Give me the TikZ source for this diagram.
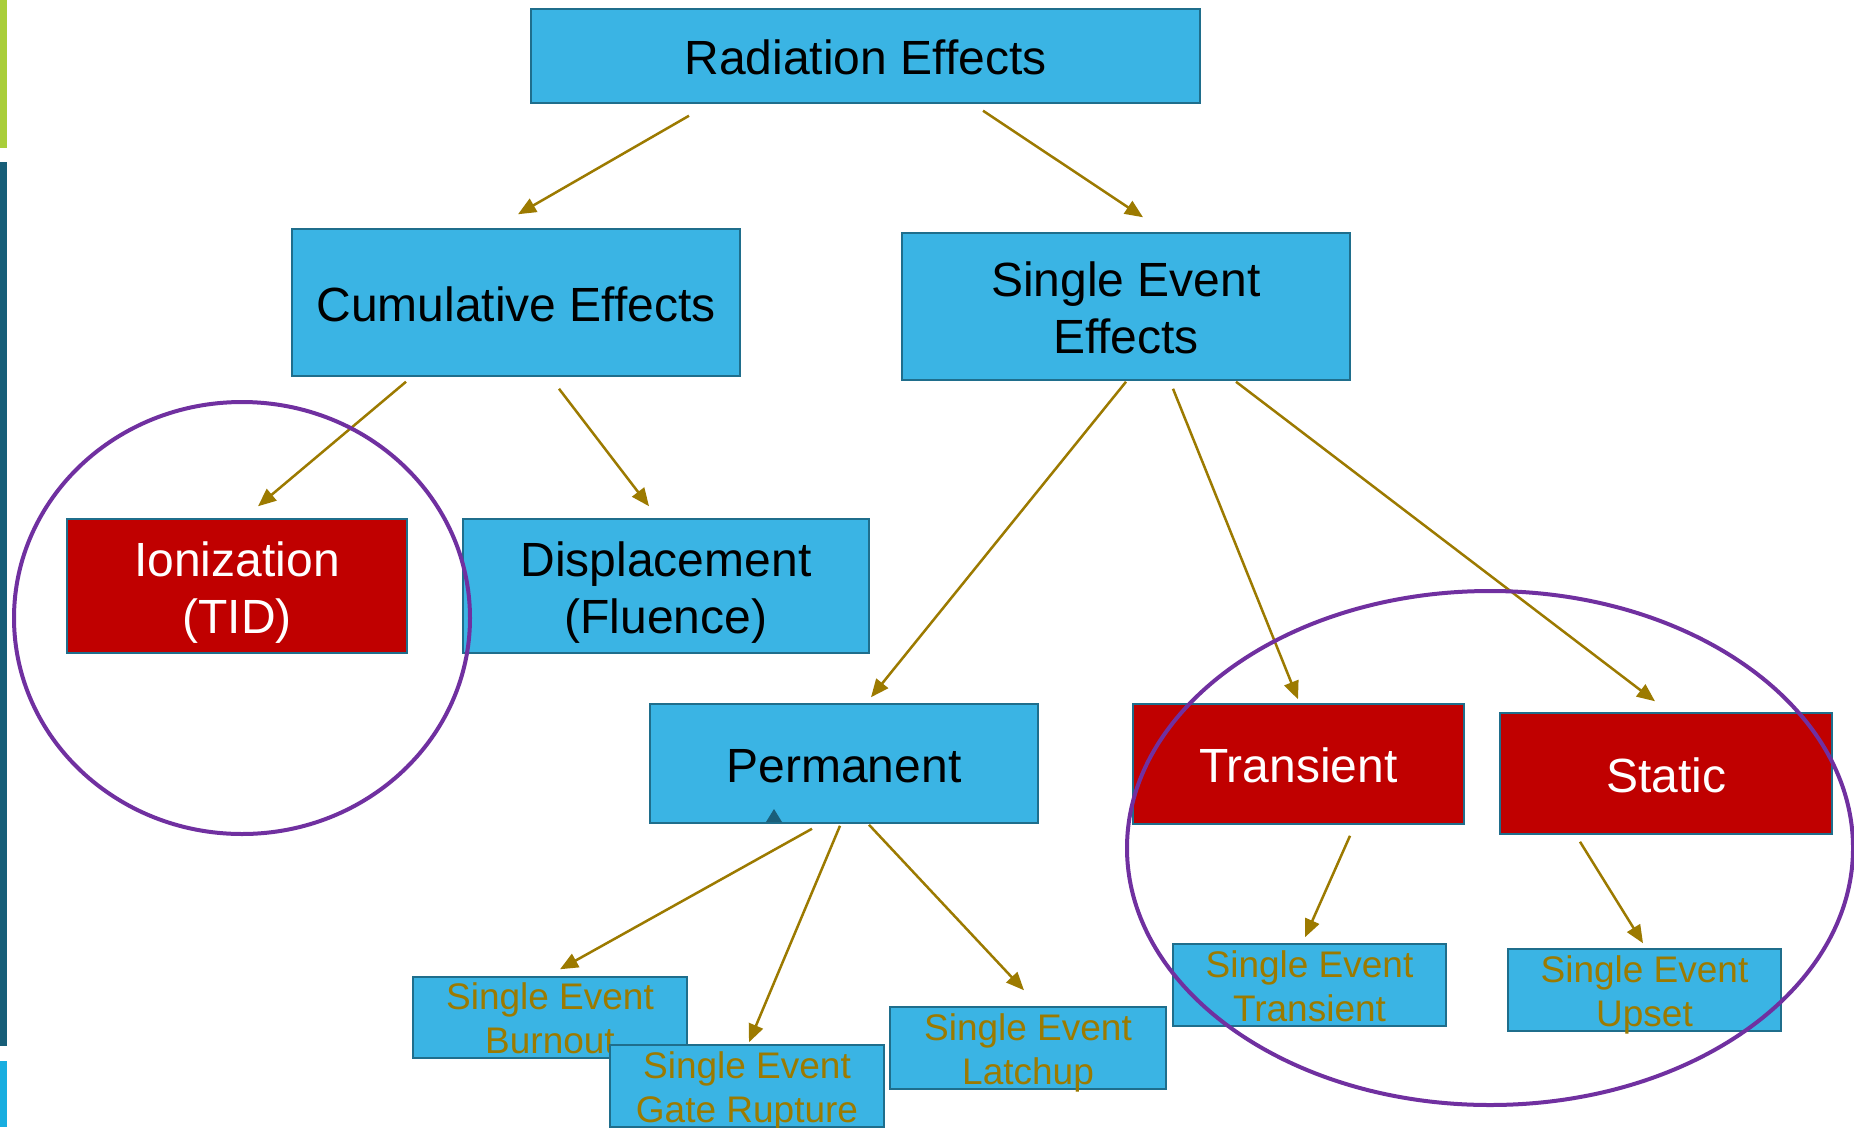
\documentclass[tikz,border=0pt]{standalone}
\usepackage{fontspec}
\setmainfont{Liberation Sans}
\usetikzlibrary{arrows.meta}
\definecolor{boxblue}{HTML}{3AB4E4}
\definecolor{boxedge}{HTML}{1F6E8C}
\definecolor{boxred}{HTML}{C00000}
\definecolor{arrowgold}{HTML}{9C7A00}
\definecolor{ringpurple}{HTML}{7030A0}
\definecolor{bargreen}{HTML}{A9CE3A}
\definecolor{barteal}{HTML}{175E78}
\definecolor{barcyan}{HTML}{18AEE0}
\definecolor{marker}{HTML}{1A5F7A}
\tikzset{
  plainbox/.style={draw=boxedge, line width=1.5pt, fill=boxblue, inner sep=0pt,
    align=center, text=black},
  % fixed struts around the label so every label sits the same way in its box
  box/.style={plainbox, font=\fontsize{48}{57}\selectfont,
    execute at begin node={\rule{0pt}{47.9pt}},
    execute at end node={\rule[-10.5pt]{0pt}{0pt}}},
  twoline/.style={execute at begin node={\rule{0pt}{104.9pt}}},
  redbox/.style={box, fill=boxred, text=white},
  smallbox/.style={plainbox, inner ysep=-6pt, text=arrowgold,
    font=\fontsize{37}{44}\selectfont,
    execute at begin node={\rule{0pt}{80.8pt}},
    execute at end node={\rule[-8pt]{0pt}{0pt}}},
  arr/.style={draw=arrowgold, line width=2.5pt,
    -{Triangle[length=18pt,width=15pt]}},
  ring/.style={draw=ringpurple, line width=4pt}
}
\begin{document}
\begin{tikzpicture}[x=1pt,y=-1pt]
\fill[white] (0,0) rectangle (1854,1127);
\useasboundingbox (0,0) rectangle (1854,1127);

% side bars
\fill[bargreen] (0,0) rectangle (7,148);
\fill[barteal] (0,162) rectangle (7,1046);
\fill[barcyan] (0,1061) rectangle (7,1127);

% top levels
\node[box, minimum width=669pt, minimum height=94pt] (re) at (865.5,56) {Radiation Effects};
\node[box, minimum width=448pt, minimum height=147pt] (ce) at (516,302.5) {Cumulative Effects};
\node[box, twoline, minimum width=448pt, minimum height=147pt] (see) at (1126,306.5) {Single Event\\Effects};

% second level
\node[redbox, twoline, minimum width=340pt, minimum height=134pt] (ion) at (237,586) {Ionization\\(TID)};
\node[box, twoline, minimum width=406pt, minimum height=134pt] (disp) at (666,586) {Displacement\\(Fluence)};
\node[box, minimum width=388pt, minimum height=119pt] (perm) at (844,763.5) {Permanent};
\node[redbox, minimum width=331pt, minimum height=120pt] (trans) at (1298.5,764) {Transient};
\node[redbox, minimum width=332pt, minimum height=121pt] (stat) at (1666,773.5) {Static};

% small marker on the Permanent box
\fill[marker] (766,822) -- (782,822) -- (774,809) -- cycle;

% leaves
\node[smallbox, minimum width=274pt, minimum height=81pt] (seb) at (550,1017.5) {Single Event\\Burnout};
\node[smallbox, minimum width=274pt, minimum height=82pt] (segr) at (747,1086) {Single Event\\Gate Rupture};
\node[smallbox, minimum width=276pt, minimum height=82pt] (sel) at (1028,1048) {Single Event\\Latchup};
\node[smallbox, minimum width=273pt, minimum height=82pt] (set) at (1309.5,985) {Single Event\\Transient};
\node[smallbox, minimum width=273pt, minimum height=82pt] (seu) at (1644.5,990) {Single Event\\Upset};

% connectors
\draw[arr] ([shift={(-176.5,12)}]re.south) -- ([shift={(2,-14)}]ce.north);
\draw[arr] ([shift={(117.5,7)}]re.south) -- ([shift={(17,-15)}]see.north);
\draw[arr] ([shift={(-110,5)}]ce.south) -- ([shift={(21,-12)}]ion.north);
\draw[arr] ([shift={(43,12)}]ce.south) -- ([shift={(-17,-12)}]disp.north);
\draw[arr] ([shift={(0,1)}]see.south) -- ([shift={(27,-6)}]perm.north);
\draw[arr] ([shift={(47,8)}]see.south) -- ([shift={(-0.5,-4)}]trans.north);
\draw[arr] ([shift={(110,1)}]see.south) -- ([shift={(-11,-11)}]stat.north);
\draw[arr] ([shift={(-32,5)}]perm.south) -- ([shift={(10,-7)}]seb.north);
\draw[arr] ([shift={(-4,2)}]perm.south) -- ([shift={(2,-2)}]segr.north);
\draw[arr] ([shift={(25,1)}]perm.south) -- ([shift={(-4,-16)}]sel.north);
\draw[arr] ([shift={(51.5,11)}]trans.south) -- ([shift={(-4.5,-6)}]set.north);
\draw[arr] ([shift={(-86,7)}]stat.south) -- ([shift={(-1.5,-5)}]seu.north);

% highlight rings
\draw[ring] (242,618) ellipse [x radius=228pt, y radius=216pt];
\draw[ring] (1490,848) ellipse [x radius=363pt, y radius=257pt];
\end{tikzpicture}
\end{document}
